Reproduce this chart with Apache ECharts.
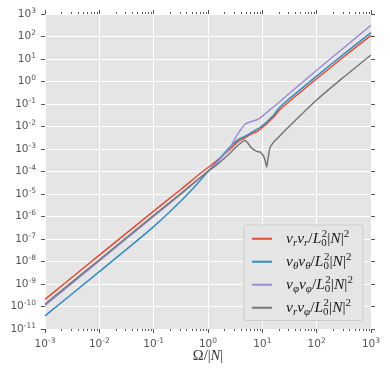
<!doctype html>
<html>
<head>
<meta charset="utf-8">
<title>Velocity correlations vs frequency</title>
<style>
  html, body { margin: 0; padding: 0; background: #fff; }
  #main { width: 390px; height: 377px; }
</style>
</head>
<body>
<div id="main"></div>
<script src="https://cdn.jsdelivr.net/npm/echarts@6.0.0/dist/echarts.min.js"></script>
<script>
// frequency points (Omega/|N|) shared by all curves
var freq = [0.001, 0.01, 0.1, 0.32, 0.63, 1, 1.6, 2.5, 3.5, 4.8, 6.3, 7.9, 9.3,
            10.7, 11.5, 12.0, 12.6, 13.8, 15.8, 20.9, 31.6, 100, 316, 1000];

// values
var vrvr = [2.09e-10, 1.91e-8, 1.74e-6, 1.62e-5, 6.3e-5, 1.51e-4, 3.7e-4, 9.3e-4, 2.09e-3,
            3.16e-3, 4.7e-3, 6.0e-3, 7.9e-3, 1.05e-2, 1.2e-2, 1.32e-2, 1.48e-2, 1.82e-2,
            2.5e-2, 5.5e-2, 0.132, 1.32, 12.6, 112];
var vthvth = [3.8e-11, 3.55e-9, 3.55e-7, 5.0e-6, 2.8e-5, 1.0e-4, 3.55e-4, 1.2e-3, 2.5e-3,
              3.7e-3, 5.4e-3, 7.4e-3, 9.5e-3, 1.26e-2, 1.45e-2, 1.58e-2, 1.78e-2, 2.2e-2,
              3.0e-2, 7.2e-2, 0.174, 1.74, 16.6, 148];
var vphvph = [1.12e-10, 1.05e-8, 1.0e-6, 1.0e-5, 4.0e-5, 1.05e-4, 3.16e-4, 1.12e-3, 4.5e-3,
              1.26e-2, 1.66e-2, 2.0e-2, 2.5e-2, 3.3e-2, 3.8e-2, 4.2e-2, 4.6e-2, 5.6e-2,
              7.2e-2, 0.126, 0.30, 3.16, 31.6, 316];
var vrvph = [1.29e-10, 1.2e-8, 1.12e-6, 1.07e-5, 4.2e-5, 1.0e-4, 2.4e-4, 6.3e-4, 1.41e-3,
             2.4e-3, 1.12e-3, 7.9e-4, 7.1e-4, 4.5e-4, 2.5e-4, 1.58e-4, 3.16e-4, 1.12e-3,
             1.9e-3, 3.8e-3, 1.05e-2, 0.151, 1.58, 15.1];

var seriesNames = ['vrvr', 'vthvth', 'vphvph', 'vrvph'];
var seriesSubs = [['r', 'r'], ['θ', 'θ'], ['φ', 'φ'], ['r', 'φ']];
var seriesColors = ['#E24A33', '#348ABD', '#988ED5', '#777777'];
var seriesData = [vrvr, vthvth, vphvph, vrvph];

// axis ticks (exponents of ten)
var xTickExp = [-3, -2, -1, 0, 1, 2, 3];
var yTickExp = [-11, -10, -9, -8, -7, -6, -5, -4, -3, -2, -1, 0, 1, 2, 3];
var minorMantissa = [2, 3, 4, 5, 6, 7, 8, 9];
var minorDecades = [1e-3, 1e-2, 1e-1, 1, 10, 100];

var xMin = Math.pow(10, xTickExp[0]), xMax = Math.pow(10, xTickExp[xTickExp.length - 1]);
var yMin = Math.pow(10, yTickExp[0]), yMax = Math.pow(10, yTickExp[yTickExp.length - 1]);

var minorTicks = [];
minorDecades.forEach(function (d) {
    minorMantissa.forEach(function (m) { minorTicks.push([m * d, 1]); });
});

var tickColor = '#555555';
var powRich = {
    b: { fontFamily: 'DejaVu Sans', fontSize: 10.5, lineHeight: 14, color: tickColor },
    s: { fontFamily: 'DejaVu Sans', fontSize: 7.5, lineHeight: 7, verticalAlign: 'top', color: tickColor }
};
function powLabel(e) {
    return '{b|10}{s|' + e + '}';
}

var mathFont = 'Liberation Serif';
function mathRich(size, color) {
    var sub = Math.round(size * 0.68);
    return {
        i: { fontFamily: mathFont, fontStyle: 'italic', fontSize: size, lineHeight: size + 4, color: color },
        n: { fontFamily: mathFont, fontSize: size, lineHeight: size + 4, color: color },
        sb: { fontFamily: mathFont, fontStyle: 'italic', fontSize: sub, lineHeight: sub + 1, verticalAlign: 'bottom', color: color },
        z: { fontFamily: mathFont, fontSize: sub, lineHeight: sub + 1, verticalAlign: 'bottom', width: 0.5, color: color },
        sp: { fontFamily: mathFont, fontSize: sub, lineHeight: sub + 1, verticalAlign: 'top', color: color }
    };
}

var chart = echarts.init(document.getElementById('main'), null, { renderer: 'canvas' });

var series = seriesNames.map(function (name, k) {
    return {
        name: name,
        type: 'line',
        xAxisIndex: 0,
        yAxisIndex: 0,
        data: freq.map(function (f, i) { return [f, seriesData[k][i]]; }),
        showSymbol: false,
        smooth: 0.25,
        lineStyle: { width: 1.5, color: seriesColors[k] },
        itemStyle: { color: seriesColors[k] },
        animation: false,
        z: 3
    };
});

// minor ticks of the log x axis (bottom and top)
series.push({
    type: 'custom',
    name: 'minorTicks',
    xAxisIndex: 0,
    yAxisIndex: 0,
    silent: true,
    clip: false,
    data: minorTicks,
    renderItem: function (params, api) {
        var cs = params.coordSys;
        var x = Math.round(api.coord([api.value(0), 1])[0]) + 0.5;
        var yb = cs.y + cs.height;
        return {
            type: 'group',
            children: [
                { type: 'line', shape: { x1: x, y1: yb, x2: x, y2: yb + 2 }, style: { stroke: tickColor, lineWidth: 1 } },
                { type: 'line', shape: { x1: x, y1: cs.y, x2: x, y2: cs.y - 2 }, style: { stroke: tickColor, lineWidth: 1 } }
            ]
        };
    },
    animation: false
});

chart.setOption({
    animation: false,
    grid: {
        left: 45, right: 19, top: 14, bottom: 48,
        show: true,
        backgroundColor: '#E5E5E5',
        borderWidth: 0
    },
    legend: {
        data: seriesNames,
        orient: 'vertical',
        left: 244,
        top: 225,
        padding: [4, 10, 3, 8],
        itemGap: 3.5,
        itemWidth: 20,
        itemHeight: 2,
        icon: 'rect',
        selectedMode: false,
        backgroundColor: '#E5E5E5',
        borderColor: '#CCCCCC',
        borderWidth: 1,
        borderRadius: 2,
        textStyle: { padding: [0, 0, 0, 9], rich: mathRich(15.5, '#1a1a1a') },
        formatter: function (name) {
            var s = seriesSubs[seriesNames.indexOf(name)];
            return '{i|v}{sb|' + s[0] + '}{i|v}{sb|' + s[1] + '}{n|/}{i|L}{z|0}{sp|2}{n||}{i|N}{n||}{sp|2}';
        }
    },
    xAxis: [{
        type: 'log',
        logBase: 10,
        min: xMin,
        max: xMax,
        position: 'bottom',
        name: '{n|Ω/|}{i|N}{n||}',
        nameLocation: 'middle',
        nameGap: 18,
        nameMoveOverlap: false,
        nameTextStyle: { rich: mathRich(14.5, '#333') },
        axisLine: { show: false, onZero: false },
        axisTick: { show: true, inside: false, length: 4, lineStyle: { color: tickColor, width: 1 } },
        axisLabel: {
            margin: 8,
            rich: powRich,
            formatter: function (v) { return powLabel(Math.round(Math.log(v) / Math.LN10)); }
        },
        splitLine: { show: true, lineStyle: { color: '#FFFFFF', width: 1 } },
        minorTick: { show: false }
    }, {
        type: 'log',
        logBase: 10,
        min: xMin,
        max: xMax,
        position: 'top',
        axisLine: { show: false, onZero: false },
        axisTick: { show: true, inside: false, length: 4, lineStyle: { color: tickColor, width: 1 } },
        axisLabel: { show: false },
        splitLine: { show: false }
    }],
    yAxis: [{
        type: 'log',
        logBase: 10,
        min: yMin,
        max: yMax,
        show: false
    }, {
        type: 'value',
        min: yTickExp[0],
        max: yTickExp[yTickExp.length - 1],
        interval: 1,
        position: 'left',
        axisLine: { show: false, onZero: false },
        axisTick: { show: true, inside: false, length: 4, lineStyle: { color: tickColor, width: 1 } },
        axisLabel: {
            margin: 9,
            rich: powRich,
            formatter: function (v) { return powLabel(v); }
        },
        splitLine: { show: true, lineStyle: { color: '#FFFFFF', width: 1 } }
    }, {
        type: 'value',
        min: yTickExp[0],
        max: yTickExp[yTickExp.length - 1],
        interval: 1,
        position: 'right',
        axisLine: { show: false, onZero: false },
        axisTick: { show: true, inside: false, length: 4, lineStyle: { color: tickColor, width: 1 } },
        axisLabel: { show: false },
        splitLine: { show: false }
    }],
    series: series
});

window.onresize = chart.resize;
</script>
</body>
</html>
